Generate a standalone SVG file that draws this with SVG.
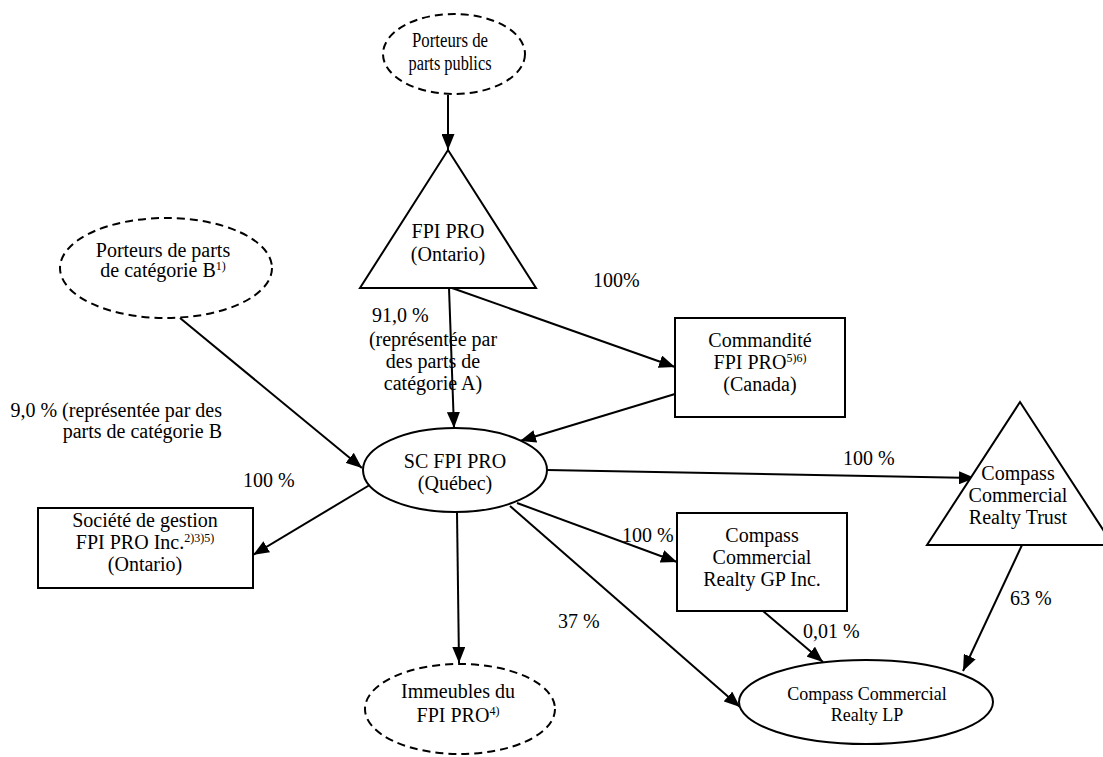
<svg xmlns="http://www.w3.org/2000/svg" width="1103" height="757" viewBox="0 0 1103 757">
<style>
text { font-family: "Liberation Serif", "Times New Roman", serif; font-size: 20px; fill: #000; }
.c { text-anchor: middle; }
.e { text-anchor: end; }
.shape { fill: #fff; stroke: #000; stroke-width: 2; }
.dash { fill: #fff; stroke: #000; stroke-width: 2; stroke-dasharray: 8 5; }
.conn { stroke: #000; stroke-width: 2; fill: none; marker-end: url(#arr); }
.sup { font-size: 12px; }
</style>
<defs>
<marker id="arr" markerUnits="userSpaceOnUse" markerWidth="17" markerHeight="13" refX="16" refY="6.5" orient="auto">
<path d="M0,0 L16,6.5 L0,13 z" fill="#000"/>
</marker>
</defs>

<g id="connectors">
<line class="conn" x1="448" y1="95" x2="448" y2="150"/>
<line class="conn" x1="449" y1="288" x2="454" y2="428"/>
<line class="conn" x1="452" y1="288" x2="675" y2="367"/>
<line class="conn" x1="675" y1="394" x2="520" y2="441"/>
<line class="conn" x1="180" y1="318" x2="362" y2="468"/>
<line class="conn" x1="378" y1="480" x2="253" y2="555"/>
<line class="conn" x1="457" y1="512" x2="459" y2="663"/>
<line class="conn" x1="517" y1="503" x2="677" y2="562"/>
<line class="conn" x1="510" y1="506" x2="740" y2="707"/>
<line class="conn" x1="547" y1="470" x2="975" y2="478"/>
<line class="conn" x1="763" y1="611" x2="823" y2="662"/>
<line class="conn" x1="1022" y1="545" x2="963" y2="671"/>
</g>

<g id="porteurs-publics">
<ellipse class="dash" cx="454" cy="54" rx="71" ry="40"/>
<text class="c" x="450" y="47" textLength="76" lengthAdjust="spacingAndGlyphs">Porteurs de</text>
<text class="c" x="450" y="70" textLength="83" lengthAdjust="spacingAndGlyphs">parts publics</text>
</g>

<g id="fpi-pro">
<polygon class="shape" points="448,150 536,288 360,288"/>
<text class="c" x="448" y="238">FPI PRO</text>
<text class="c" x="448" y="261">(Ontario)</text>
</g>

<g id="porteurs-b">
<ellipse class="dash" cx="166" cy="268" rx="106" ry="50"/>
<text class="c" x="163" y="257">Porteurs de parts</text>
<text class="c" x="163" y="277">de catégorie B<tspan class="sup" dy="-7">1)</tspan></text>
</g>

<g id="commandite">
<rect class="shape" x="675" y="318" width="170" height="99"/>
<text class="c" x="760" y="347">Commandité</text>
<text class="c" x="760" y="369">FPI PRO<tspan class="sup" dy="-7">5)6)</tspan></text>
<text class="c" x="760" y="391">(Canada)</text>
</g>

<g id="sc-fpi-pro">
<ellipse class="shape" cx="455" cy="470" rx="92" ry="42"/>
<text class="c" x="455" y="468">SC FPI PRO</text>
<text class="c" x="455" y="490">(Québec)</text>
</g>

<g id="societe-gestion">
<rect class="shape" x="38" y="508" width="215" height="80"/>
<text class="c" x="145" y="527">Société de gestion</text>
<text class="c" x="145" y="549">FPI PRO Inc.<tspan class="sup" dy="-7">2)3)5)</tspan></text>
<text class="c" x="145" y="571">(Ontario)</text>
</g>

<g id="compass-gp">
<rect class="shape" x="677" y="513" width="170" height="98"/>
<text class="c" x="762" y="542">Compass</text>
<text class="c" x="762" y="564">Commercial</text>
<text class="c" x="762" y="586">Realty GP Inc.</text>
</g>

<g id="compass-trust">
<polygon class="shape" points="1020,402 1113,545 927,545"/>
<text class="c" x="1018" y="480">Compass</text>
<text class="c" x="1018" y="502">Commercial</text>
<text class="c" x="1018" y="524">Realty Trust</text>
</g>

<g id="immeubles">
<ellipse class="dash" cx="460" cy="709" rx="95" ry="45"/>
<text class="c" x="458" y="698">Immeubles du</text>
<text class="c" x="458" y="722">FPI PRO<tspan class="sup" dy="-7">4)</tspan></text>
</g>

<g id="compass-lp">
<ellipse class="shape" cx="866" cy="702" rx="127" ry="42"/>
<text class="c" x="867" y="700" style="font-size:18px">Compass Commercial</text>
<text class="c" x="867" y="721" style="font-size:18px">Realty LP</text>
</g>

<g id="labels">
<text x="593" y="287">100%</text>
<text x="372" y="322">91,0 %</text>
<text class="c" x="433" y="346">(représentée par</text>
<text class="c" x="433" y="368">des parts de</text>
<text class="c" x="433" y="390">catégorie A)</text>
<text class="e" x="222" y="417">9,0 % (représentée par des</text>
<text class="e" x="222" y="438">parts de catégorie B</text>
<text x="243" y="487">100 %</text>
<text x="843" y="465">100 %</text>
<text x="622" y="542">100 %</text>
<text x="558" y="628">37 %</text>
<text x="803" y="638">0,01 %</text>
<text x="1010" y="605">63 %</text>
</g>
</svg>
